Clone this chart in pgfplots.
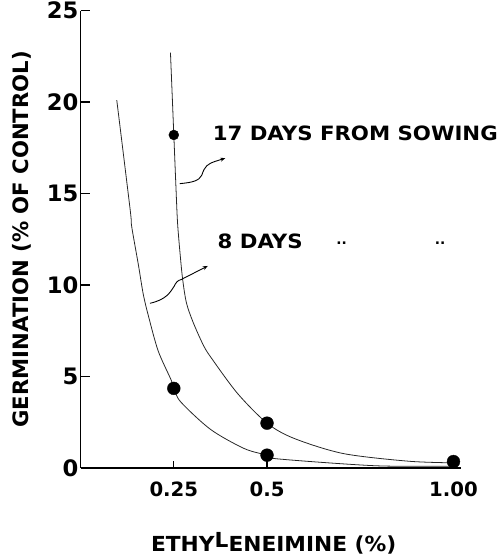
\documentclass[border=0pt]{standalone}
\usepackage{fontspec}
\setmainfont{DejaVu Sans}
\usepackage{pgfplots}
\pgfplotsset{compat=1.18}
\usetikzlibrary{arrows.meta}

% 17 days from sowing: traced curve
\pgfplotstableread{
x y
0.241 22.7
0.250 18.2
0.256 15.2
0.260 13.4
0.267 11.66
0.274 10.26
0.284 9.01
0.302 7.95
0.329 6.72
0.350 6.03
0.421 4.07
0.500 2.45
0.572 1.62
0.704 0.79
0.879 0.37
1.000 0.28
}\curveSeventeen

% 8 days: traced curve
\pgfplotstableread{
x y
0.097 20.1
0.133 14.1
0.137 13.2
0.155 11.1
0.168 9.5
0.182 8.3
0.208 6.4
0.243 4.8
0.250 4.35
0.269 3.6
0.349 2.1
0.439 1.06
0.500 0.70
0.527 0.50
0.792 0.12
1.000 0.10
}\curveEight

% observed points
\pgfplotstableread{
x y
0.25 4.35
0.50 0.70
0.50 2.45
1.00 0.35
}\points

\begin{document}
\begin{tikzpicture}
\path (-81.5bp,-88bp) rectangle (419.5bp,467bp);
\begin{axis}[
  x=377bp, y=18.5bp,
  xmin=0, xmax=1.02, ymin=0, ymax=25,
  axis lines*=left,
  axis line style={line width=1.2bp},
  clip=false,
  tick align=inside,
  tick style={line width=1.2bp, black},
  xtick={0.25,0.5,1}, xticklabels={0.25,0.5,1.00},
  ytick={0,5,10,15,20,25},
  xtick style={/pgfplots/major tick length=7bp},
  ytick style={/pgfplots/major tick length=10bp},
  /pgf/number format/assume math mode=true,
  yticklabel style={font=\bfseries\fontsize{23}{23}\selectfont, inner sep=2bp},
  xticklabel style={font=\bfseries\fontsize{20}{20}\selectfont, yshift=-11bp},
  ylabel={\bfseries\fontsize{21.5}{21.5}\selectfont GERMINATION (\% OF CONTROL)},
  ylabel style={at={(axis description cs:0,0.5)}, anchor=center, yshift=59.5bp, inner sep=0pt},
  xlabel={\bfseries\fontsize{21}{21}\selectfont\scalebox{1.05}[1]{ETHY\raisebox{0.2em}{L}ENEIMINE (\%)}},
  xlabel style={at={(axis description cs:0.5,0)}, anchor=center, yshift=-76bp, xshift=3bp, inner sep=0pt},
]
\addplot[smooth, black!85, line width=0.8bp, no marks] table {\curveSeventeen};
\addplot[smooth, black!85, line width=0.8bp, no marks] table {\curveEight};
\addplot[only marks, mark=*, mark size=6.5bp, black] table {\points};
\addplot[only marks, mark=*, mark size=5bp, black] coordinates {(0.25,18.2)};

\node[anchor=west, font=\bfseries\fontsize{20}{20}\selectfont, inner sep=0pt] at (axis cs:0.354,18.3) {\scalebox{1.08}[1]{17 DAYS FROM SOWING}};
\node[anchor=west, font=\bfseries\fontsize{20}{20}\selectfont, inner sep=0pt] at (axis cs:0.367,12.4) {\scalebox{1.08}[1]{8 DAYS}};
\node[font=\bfseries\fontsize{14}{14}\selectfont, inner sep=0pt] at (axis cs:0.70,12.3) {..};
\node[font=\bfseries\fontsize{14}{14}\selectfont, inner sep=0pt] at (axis cs:0.964,12.3) {..};

\draw[line width=0.9bp, -{Stealth[length=5bp,width=4bp]}] (axis cs:0.266,15.54) .. controls (axis cs:0.30,15.6) and (axis cs:0.318,15.7) .. (axis cs:0.325,16.0) .. controls (axis cs:0.333,16.5) and (axis cs:0.34,16.6) .. (axis cs:0.36,16.75) -- (axis cs:0.388,16.93);
\draw[line width=0.9bp, -{Stealth[length=5bp,width=4bp]}] (axis cs:0.186,9.0) .. controls (axis cs:0.23,9.2) and (axis cs:0.24,9.6) .. (axis cs:0.25,9.9) .. controls (axis cs:0.256,10.15) and (axis cs:0.26,10.25) .. (axis cs:0.27,10.3) -- (axis cs:0.341,11.04);
\end{axis}
\end{tikzpicture}
\end{document}
